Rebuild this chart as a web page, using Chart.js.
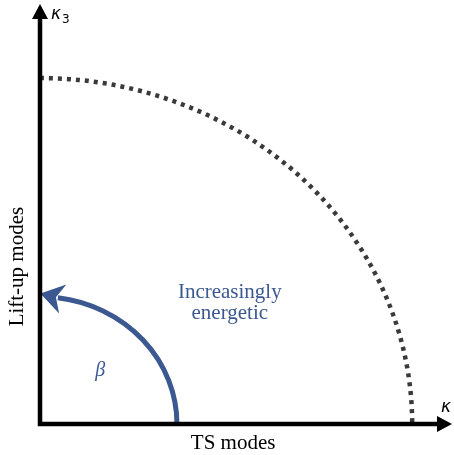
<!DOCTYPE html>
<html>
<head>
<meta charset="utf-8">
<script src="https://cdn.jsdelivr.net/npm/chart.js@4/dist/chart.umd.min.js"></script>
<style>
  html, body { margin: 0; padding: 0; background: #ffffff; }
  canvas { display: block; }
</style>
</head>
<body>
<canvas id="c" width="454" height="455"></canvas>
<script>
// Axis titles and symbols
const axisTitles = ['TS modes', 'Lift-up modes'];
const axisSymbols = ['κ', 'κ', '3'];
// Normalised radii: outer energy boundary and the beta sweep arc
const boundaryRadius = [1.0];
const betaRadius = [0.368];
const betaSweep = [0, 82.5];           // degrees, start and end of the beta arc
const regionLabel = ['Increasingly', 'energetic'];
const angleLabel = ['β'];
// Axis extents in data units (arrow tips)
const axisMax = [1.107, 1.214];

const ink = '#000000';
const dotInk = '#3a3a3a';
const blue = '#3b5890';

const diagram = {
  id: 'diagram',
  afterDraw(chart) {
    const ctx = chart.ctx;
    const xs = chart.scales.x, ys = chart.scales.y;
    const x0 = xs.getPixelForValue(0), y0 = ys.getPixelForValue(0);
    const px = v => xs.getPixelForValue(v) - x0;
    const py = v => y0 - ys.getPixelForValue(v);
    ctx.save();

    // dotted outer boundary, drawn from the vertical axis down to the horizontal one
    const R = boundaryRadius[0];
    ctx.beginPath();
    ctx.ellipse(x0, y0, px(R), py(R), 0, -Math.PI / 2, 0, false);
    ctx.strokeStyle = dotInk;
    ctx.lineWidth = 4.5;
    ctx.setLineDash([4, 5]);
    ctx.lineCap = 'butt';
    ctx.stroke();
    ctx.setLineDash([]);

    // beta arc with arrow head
    const r = betaRadius[0];
    const rx = px(r), ry = py(r);
    const a0 = betaSweep[0] * Math.PI / 180, a1 = betaSweep[1] * Math.PI / 180;
    ctx.beginPath();
    ctx.ellipse(x0, y0, rx, ry, 0, -a0, -a1, true);
    ctx.strokeStyle = blue;
    ctx.lineWidth = 5;
    ctx.stroke();
    const bx = x0 + rx * Math.cos(a1), by = y0 - ry * Math.sin(a1);
    // heading: tangent at the arc end, tilted a little upward
    const heading = Math.atan2(-ry * Math.cos(a1), -rx * Math.sin(a1)) + 7 * Math.PI / 180;
    const ux = Math.cos(heading), uy = Math.sin(heading);
    const nx = -uy, ny = ux;
    ctx.beginPath();
    ctx.moveTo(bx + ux * 18, by + uy * 18);
    ctx.lineTo(bx - ux * 5 + nx * 15, by - uy * 5 + ny * 15);
    ctx.lineTo(bx + ux * 2, by + uy * 2);
    ctx.lineTo(bx - ux * 5 - nx * 15, by - uy * 5 - ny * 15);
    ctx.closePath();
    ctx.fillStyle = blue;
    ctx.fill();

    // axes with arrow heads
    const xt = xs.getPixelForValue(axisMax[0]);
    const yt = ys.getPixelForValue(axisMax[1]);
    ctx.strokeStyle = ink; ctx.fillStyle = ink;
    ctx.lineWidth = 4.5;
    ctx.beginPath();
    ctx.moveTo(x0 - 2.25, y0); ctx.lineTo(xt - 12, y0);
    ctx.moveTo(x0, y0 + 2.25); ctx.lineTo(x0, yt + 12);
    ctx.stroke();
    ctx.beginPath();
    ctx.moveTo(xt, y0); ctx.lineTo(xt - 15, y0 - 8); ctx.lineTo(xt - 15, y0 + 8); ctx.closePath();
    ctx.moveTo(x0, yt); ctx.lineTo(x0 - 8, yt + 15); ctx.lineTo(x0 + 8, yt + 15); ctx.closePath();
    ctx.fill();

    // axis symbols
    ctx.font = 'italic 17px "DejaVu Sans"';
    ctx.textBaseline = 'alphabetic';
    ctx.textAlign = 'left';
    ctx.fillText(axisSymbols[1], x0 + 11, yt + 15);
    ctx.font = '12px "DejaVu Sans"';
    ctx.fillText(axisSymbols[2], x0 + 22, yt + 19);
    ctx.font = 'italic 17px "DejaVu Sans"';
    ctx.textAlign = 'center';
    ctx.fillText(axisSymbols[0], xt - 6, y0 - 12);

    // axis titles
    ctx.font = '21px "Liberation Serif"';
    ctx.textAlign = 'center';
    ctx.fillText(axisTitles[0], xs.getPixelForValue(0.519), y0 + 25);
    ctx.save();
    ctx.translate(x0 - 17, ys.getPixelForValue(0.455));
    ctx.rotate(-Math.PI / 2);
    ctx.fillText(axisTitles[1], 0, 0);
    ctx.restore();

    // region and angle labels
    ctx.fillStyle = blue;
    ctx.font = '21px "Liberation Serif"';
    ctx.fillText(regionLabel[0], xs.getPixelForValue(0.51), ys.getPixelForValue(0.365));
    ctx.fillText(regionLabel[1], xs.getPixelForValue(0.51), ys.getPixelForValue(0.303));
    ctx.font = 'italic 20px "Liberation Serif"';
    ctx.fillText(angleLabel[0], xs.getPixelForValue(0.162), ys.getPixelForValue(0.14));

    ctx.restore();
  }
};

new Chart(document.getElementById('c'), {
  type: 'scatter',
  data: { datasets: [{ data: [] }] },
  options: {
    responsive: false,
    animation: false,
    events: [],
    layout: { padding: { left: 40, right: 2, top: 4, bottom: 31 } },
    plugins: { legend: { display: false }, tooltip: { enabled: false } },
    scales: {
      x: { type: 'linear', min: 0, max: axisMax[0], display: false },
      y: { type: 'linear', min: 0, max: axisMax[1], display: false }
    }
  },
  plugins: [diagram]
});
</script>
</body>
</html>
